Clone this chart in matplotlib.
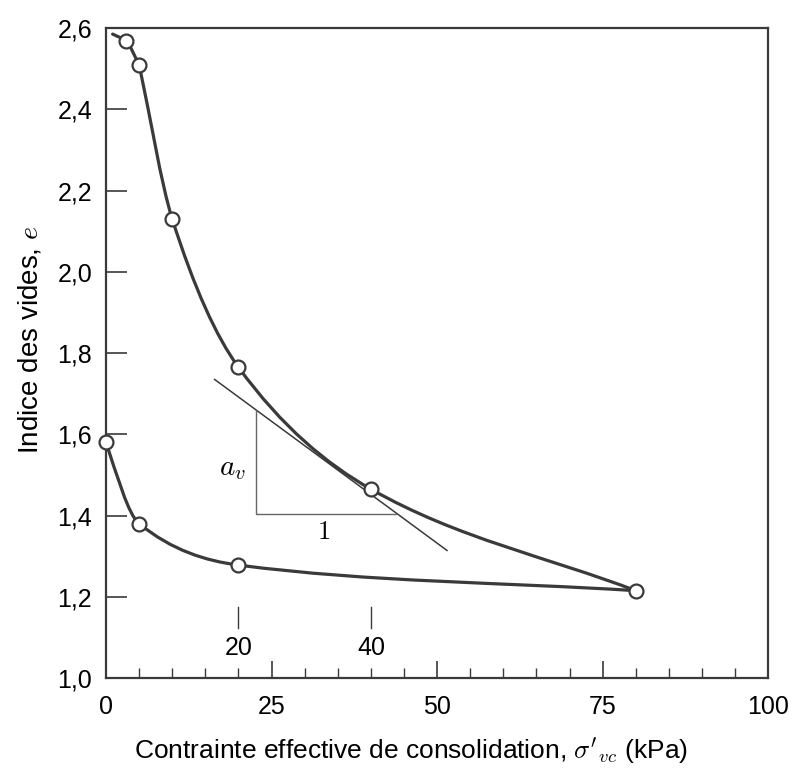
import numpy as np
import matplotlib
matplotlib.use("Agg")
import matplotlib.pyplot as plt
from matplotlib.path import Path
from matplotlib.patches import PathPatch

plt.rcParams['font.family'] = ['Liberation Sans', 'DejaVu Sans']
plt.rcParams['mathtext.fontset'] = 'cm'

# loading branch, drawn in two pieces (kink at 5 kPa);
# first point = start of the drawn curve, no marker
load_a_x = [1.0, 3.0, 5.0]
load_a_y = [2.585, 2.568, 2.51]
load_b_x = [5.0, 10.0, 20.0, 40.0, 80.0]
load_b_y = [2.51, 2.13, 1.765, 1.465, 1.215]
# unloading branch
unload_x = [0.0, 5.0, 20.0, 80.0]
unload_y = [1.58, 1.38, 1.278, 1.215]
# measured points (circles)
pts_x = [3, 5, 10, 20, 40, 80, 20, 5, 0]
pts_y = [2.568, 2.51, 2.13, 1.765, 1.465, 1.215, 1.278, 1.38, 1.58]

# tangent at 40 kPa and its slope triangle
tan_x = [16.4, 51.5]
tan_y = [1.735, 1.314]
tri_x = [22.6, 22.6, 43.8]
tri_y = [1.660, 1.403, 1.403]

yticks = [1.0, 1.2, 1.4, 1.6, 1.8, 2.0, 2.2, 2.4, 2.6]
ytick_labels = ['1,0', '1,2', '1,4', '1,6', '1,8', '2,0', '2,2', '2,4', '2,6']
xticks = [0, 25, 50, 75, 100]
inner_ticks = [20, 40]

col = '#3a3a3a'


def smooth_path(x, y, start='secant', end='secant'):
    # monotone cubic hermite through the points, drawn as bezier segments
    x = np.asarray(x, float)
    y = np.asarray(y, float)
    h = np.diff(x)
    d = np.diff(y) / h
    m = np.zeros_like(x)
    for k in range(1, len(x) - 1):
        if d[k - 1] * d[k] > 0:
            w1 = 2 * h[k] + h[k - 1]
            w2 = h[k] + 2 * h[k - 1]
            m[k] = (w1 + w2) / (w1 / d[k - 1] + w2 / d[k])
    if start == 'secant' or len(x) < 3:
        m[0] = d[0]
    else:
        m[0] = ((2 * h[0] + h[1]) * d[0] - h[0] * d[1]) / (h[0] + h[1])
    if end == 'secant' or len(x) < 3:
        m[-1] = d[-1]
    else:
        m[-1] = ((2 * h[-1] + h[-2]) * d[-1] - h[-1] * d[-2]) / (h[-1] + h[-2])
    verts = [(x[0], y[0])]
    codes = [Path.MOVETO]
    for k in range(len(x) - 1):
        verts += [(x[k] + h[k] / 3, y[k] + m[k] * h[k] / 3),
                  (x[k + 1] - h[k] / 3, y[k + 1] - m[k + 1] * h[k] / 3),
                  (x[k + 1], y[k + 1])]
        codes += [Path.CURVE4] * 3
    return Path(verts, codes)


fig = plt.figure(figsize=(7.94, 7.69), dpi=100)
ax = fig.add_axes([0.1335, 0.1183, 0.834, 0.8453])

paths = [smooth_path(load_a_x, load_a_y),
         smooth_path(load_b_x, load_b_y),
         smooth_path(unload_x, unload_y, start='three')]
for p in paths:
    ax.add_patch(PathPatch(p, fill=False, ec=col, lw=2.3,
                           capstyle='round', joinstyle='round', zorder=3))

ax.plot(tan_x, tan_y, color=col, lw=1.1, zorder=2)
ax.plot(tri_x, tri_y, color='#666666', lw=1.0, zorder=2)
ax.plot(pts_x, pts_y, 'o', ms=10, mfc='white', mec=col, mew=1.6,
        ls='none', zorder=4, clip_on=False)

ax.text(19.1, 1.516, r'$a_v$', fontsize=21, ha='center', va='center')
ax.text(32.9, 1.36, r'$\mathbf{1}$', fontsize=19, ha='center', va='center')

for t in inner_ticks:
    ax.plot([t, t], [1.122, 1.174], color=col, lw=1.0)
    ax.text(t, 1.073, str(t), fontsize=18, ha='center', va='center')

ax.set_xlim(0, 100)
ax.set_ylim(1.0, 2.6)
ax.set_xticks(xticks)
ax.set_xticks(np.arange(5, 100, 5), minor=True)
ax.set_yticks(yticks)
ax.set_yticklabels(ytick_labels)
ax.tick_params(which='major', direction='in', length=12, width=1.2,
               labelsize=18, color=col)
ax.tick_params(axis='y', which='major', length=15, pad=10)
ax.tick_params(axis='x', which='major', pad=12)
ax.tick_params(which='minor', direction='in', length=7, width=1.0, color=col)
for s in ax.spines.values():
    s.set_linewidth(1.6)
    s.set_color(col)

ax.set_xlabel(r"Contrainte effective de consolidation, $\sigma'_{vc}$ (kPa)",
              fontsize=19, labelpad=12, x=0.46)
ax.set_ylabel(r'Indice des vides, $e$', fontsize=20, labelpad=10, y=0.52)

fig.savefig('out.png', dpi=100)
